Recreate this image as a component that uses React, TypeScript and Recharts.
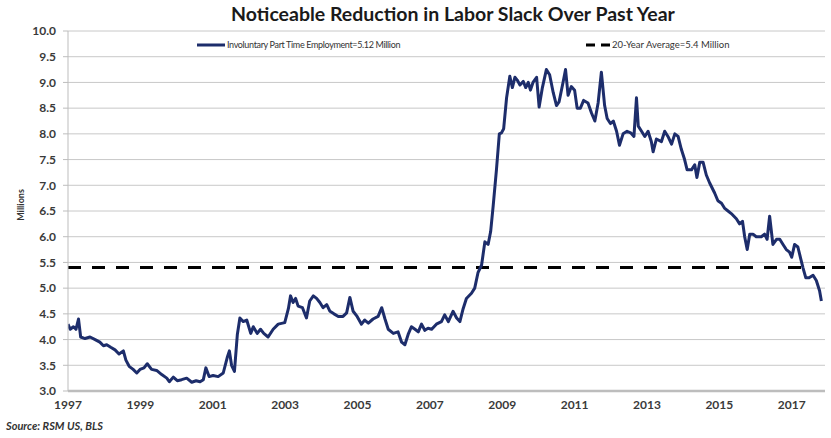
import React from 'react';
import { LineChart, Line, XAxis, YAxis, CartesianGrid, ReferenceLine } from 'recharts';

const years = [
  1997.0, 1997.06, 1997.15, 1997.22, 1997.29, 1997.35, 1997.47, 1997.61, 1997.75, 1997.88,
  1997.98, 1998.07, 1998.18, 1998.3, 1998.41, 1998.53, 1998.6, 1998.69, 1998.8, 1998.9,
  1998.99, 1999.1, 1999.19, 1999.31, 1999.45, 1999.59, 1999.73, 1999.8, 1999.91, 2000.02,
  2000.14, 2000.28, 2000.42, 2000.54, 2000.65, 2000.74, 2000.81, 2000.9, 2001.01, 2001.15,
  2001.29, 2001.4, 2001.46, 2001.52, 2001.6, 2001.68, 2001.75, 2001.84, 2001.94, 2002.05,
  2002.12, 2002.23, 2002.32, 2002.41, 2002.53, 2002.67, 2002.81, 2002.99, 2003.09, 2003.15,
  2003.22, 2003.29, 2003.36, 2003.48, 2003.59, 2003.68, 2003.78, 2003.87, 2003.96, 2004.05,
  2004.15, 2004.24, 2004.35, 2004.47, 2004.6, 2004.7, 2004.79, 2004.88, 2004.99, 2005.11,
  2005.2, 2005.3, 2005.43, 2005.57, 2005.67, 2005.76, 2005.85, 2005.99, 2006.12, 2006.22,
  2006.31, 2006.4, 2006.49, 2006.59, 2006.68, 2006.77, 2006.86, 2006.95, 2007.05, 2007.18,
  2007.32, 2007.41, 2007.51, 2007.64, 2007.74, 2007.83, 2007.92, 2008.01, 2008.15, 2008.24,
  2008.33, 2008.43, 2008.52, 2008.61, 2008.68, 2008.75, 2008.84, 2008.92, 2008.98, 2009.04,
  2009.12, 2009.21, 2009.28, 2009.35, 2009.41, 2009.49, 2009.58, 2009.65, 2009.72, 2009.78,
  2009.85, 2009.95, 2010.02, 2010.11, 2010.22, 2010.31, 2010.41, 2010.5, 2010.57, 2010.68,
  2010.75, 2010.82, 2010.91, 2011.0, 2011.07, 2011.16, 2011.25, 2011.37, 2011.47, 2011.56,
  2011.65, 2011.74, 2011.83, 2011.9, 2011.99, 2012.07, 2012.16, 2012.24, 2012.34, 2012.45,
  2012.55, 2012.64, 2012.71, 2012.76, 2012.85, 2012.94, 2013.03, 2013.12, 2013.17, 2013.26,
  2013.4, 2013.49, 2013.58, 2013.68, 2013.77, 2013.86, 2013.95, 2014.04, 2014.11, 2014.23,
  2014.32, 2014.38, 2014.46, 2014.55, 2014.64, 2014.73, 2014.87, 2014.96, 2015.06, 2015.15,
  2015.24, 2015.33, 2015.47, 2015.56, 2015.64, 2015.7, 2015.77, 2015.84, 2015.93, 2016.02,
  2016.16, 2016.25, 2016.32, 2016.39, 2016.48, 2016.58, 2016.67, 2016.76, 2016.85, 2016.94,
  2017.0, 2017.08, 2017.17, 2017.24, 2017.31, 2017.39, 2017.48, 2017.59, 2017.68, 2017.77,
  2017.82,
];

const involuntaryPartTime = [
  4.3, 4.2, 4.25, 4.2, 4.4, 4.05, 4.02, 4.05, 4.0, 3.95,
  3.88, 3.9, 3.85, 3.8, 3.72, 3.78, 3.6, 3.48, 3.42, 3.35,
  3.42, 3.45, 3.53, 3.42, 3.4, 3.32, 3.25, 3.18, 3.27, 3.2,
  3.22, 3.25, 3.17, 3.2, 3.18, 3.22, 3.45, 3.28, 3.3, 3.28,
  3.35, 3.65, 3.78, 3.5, 3.38, 4.1, 4.42, 4.35, 4.38, 4.12,
  4.25, 4.12, 4.2, 4.12, 4.05, 4.2, 4.3, 4.33, 4.6, 4.85,
  4.72, 4.8, 4.65, 4.62, 4.42, 4.75, 4.85, 4.8, 4.72, 4.62,
  4.68, 4.55, 4.5, 4.45, 4.45, 4.52, 4.82, 4.55, 4.45, 4.3,
  4.38, 4.32, 4.4, 4.45, 4.62, 4.4, 4.2, 4.12, 4.15, 3.95,
  3.9, 4.1, 4.25, 4.2, 4.15, 4.3, 4.18, 4.22, 4.2, 4.3,
  4.35, 4.48, 4.35, 4.55, 4.42, 4.35, 4.6, 4.8, 4.9, 5.0,
  5.3, 5.45, 5.9, 5.85, 6.1, 6.6, 7.3, 8.0, 8.02, 8.1,
  8.7, 9.12, 8.9, 9.1, 9.05, 8.95, 9.02, 8.9, 9.0, 8.85,
  9.0, 9.1, 8.52, 8.9, 9.25, 9.15, 8.8, 8.55, 8.62, 9.0,
  9.25, 8.75, 8.92, 8.85, 8.5, 8.5, 8.65, 8.6, 8.4, 8.25,
  8.6, 9.2, 8.55, 8.3, 8.2, 8.25, 8.05, 7.78, 8.0, 8.05,
  8.02, 7.95, 8.7, 8.15, 8.05, 7.95, 8.05, 7.85, 7.65, 7.9,
  7.85, 8.05, 7.95, 7.8, 8.0, 7.95, 7.7, 7.5, 7.3, 7.3,
  7.4, 7.15, 7.45, 7.45, 7.2, 7.05, 6.85, 6.7, 6.65, 6.55,
  6.5, 6.45, 6.35, 6.25, 6.3, 6.0, 5.75, 6.05, 6.05, 6.0,
  6.0, 6.05, 5.95, 6.4, 5.85, 5.95, 5.95, 5.85, 5.75, 5.7,
  5.6, 5.85, 5.8, 5.6, 5.4, 5.2, 5.2, 5.25, 5.15, 4.95,
  4.75,
];

const twentyYearAverage = 5.4;
const xTicks = [1997, 1999, 2001, 2003, 2005, 2007, 2009, 2011, 2013, 2015, 2017];
const yTicks = [3, 3.5, 4, 4.5, 5, 5.5, 6, 6.5, 7, 7.5, 8, 8.5, 9, 9.5, 10];

const title = 'Noticeable Reduction in Labor Slack Over Past Year';
const seriesName = 'Involuntary Part Time Employment=5.12 Million';
const averageName = '20-Year Average=5.4 Million';
const yAxisTitle = 'Millions';
const sourceText = 'Source: RSM US, BLS';

const data = years.map((t, i) => ({ t, v: involuntaryPartTime[i] }));

const FONT = 'Lato, "Open Sans", sans-serif';
const NAVY = '#1d2d6b';

export default function App() {
  return (
    <div style={{ position: 'absolute', left: 0, top: 0, width: 831, height: 438, background: '#fff', fontFamily: FONT }}>
      <div style={{ position: 'absolute', left: 0, width: 831, top: 2, textAlign: 'center', fontSize: 19.5, fontWeight: 700, color: '#1a1a1a', paddingLeft: 75, boxSizing: 'border-box', whiteSpace: 'nowrap' }}>
        {title}
      </div>
      <div style={{ position: 'absolute', left: 20, top: 205, transform: 'translate(-50%, -50%) rotate(-90deg)', fontSize: 9, fontWeight: 700, color: '#333', whiteSpace: 'nowrap' }}>
        {yAxisTitle}
      </div>
      <LineChart width={831} height={438} data={data} margin={{ top: 31, right: 6, bottom: 17, left: 8 }}>
        <CartesianGrid vertical={false} stroke="#c8c8c8" strokeWidth={1} />
        <XAxis
          dataKey="t"
          type="number"
          domain={[1997, 2017.92]}
          ticks={xTicks}
          allowDataOverflow
          height={30}
          tickLine={false}
          tickSize={6}
          tickMargin={3}
          axisLine={{ stroke: '#bdbdbd', strokeWidth: 2.5 }}
          tick={{ fontSize: 12, fontWeight: 700, fill: '#3a3a3a', fontFamily: FONT }}
          interval={0}
        />
        <YAxis
          type="number"
          domain={[3, 10]}
          ticks={yTicks}
          width={60}
          tickSize={5}
          tickMargin={7}
          interval={0}
          tickFormatter={(v: number) => v.toFixed(1)}
          axisLine={{ stroke: '#bdbdbd', strokeWidth: 1 }}
          tickLine={{ stroke: '#bdbdbd' }}
          tick={{ fontSize: 12, fontWeight: 700, fill: '#3a3a3a', fontFamily: FONT }}
        />
        <ReferenceLine y={twentyYearAverage} stroke="#000" strokeWidth={3} strokeDasharray="13 11" ifOverflow="extendDomain" />
        <Line
          type="linear"
          dataKey="v"
          stroke={NAVY}
          strokeWidth={3}
          dot={false}
          isAnimationActive={false}
          strokeLinejoin="round"
        />
      </LineChart>
      <div style={{ position: 'absolute', left: 197, top: 39, display: 'flex', alignItems: 'center', fontSize: 9, letterSpacing: -0.35, color: '#333', whiteSpace: 'nowrap' }}>
        <svg width={28} height={10} style={{ marginRight: 2 }}>
          <line x1={0} y1={5} x2={28} y2={5} stroke={NAVY} strokeWidth={3} />
        </svg>
        <span>{seriesName}</span>
      </div>
      <div style={{ position: 'absolute', left: 586, top: 39, display: 'flex', alignItems: 'center', fontSize: 9.5, color: '#333', whiteSpace: 'nowrap' }}>
        <svg width={24} height={10} style={{ marginRight: 2 }}>
          <line x1={0} y1={5} x2={24} y2={5} stroke="#000" strokeWidth={3} strokeDasharray="9 6" />
        </svg>
        <span>{averageName}</span>
      </div>
      <div style={{ position: 'absolute', left: 6, top: 419, fontSize: 11, fontWeight: 700, fontStyle: 'italic', color: '#333', whiteSpace: 'nowrap' }}>
        {sourceText}
      </div>
    </div>
  );
}
